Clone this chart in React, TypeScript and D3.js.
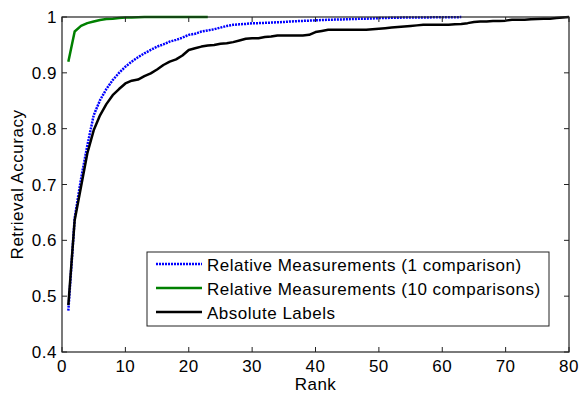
import React from "react";
import * as d3 from "d3";

const absoluteLabels = [
  0.484, 0.636, 0.696, 0.756, 0.797, 0.824, 0.844, 0.86, 0.871, 0.881,
  0.886, 0.888, 0.894, 0.899, 0.906, 0.914, 0.92, 0.924, 0.931, 0.941,
  0.944, 0.947, 0.949, 0.95, 0.952, 0.953, 0.955, 0.958, 0.961, 0.962,
  0.962, 0.964, 0.965, 0.967, 0.967, 0.967, 0.967, 0.967, 0.968, 0.973,
  0.975, 0.977, 0.977, 0.977, 0.977, 0.977, 0.977, 0.977, 0.978, 0.979,
  0.98, 0.981, 0.982, 0.983, 0.984, 0.985, 0.986, 0.986, 0.986, 0.986,
  0.986, 0.987, 0.9875, 0.989, 0.991, 0.992, 0.992, 0.993, 0.993, 0.9935,
  0.995, 0.995, 0.995, 0.996, 0.9965, 0.997, 0.997, 0.998, 0.999, 1.0,
];

const relative1 = [
  0.474, 0.64, 0.71, 0.77, 0.824, 0.851, 0.871, 0.887, 0.9, 0.911,
  0.92, 0.928, 0.935, 0.941, 0.947, 0.951, 0.956, 0.959, 0.963, 0.968,
  0.97, 0.974, 0.976, 0.978, 0.981, 0.984, 0.986, 0.987, 0.9875, 0.989,
  0.989, 0.9895, 0.99, 0.9905, 0.991, 0.992, 0.9925, 0.993, 0.9935, 0.994,
  0.9945, 0.995, 0.9953, 0.9956, 0.996, 0.9964, 0.9968, 0.997, 0.9975, 0.998,
  0.9983, 0.9985, 0.9988, 0.999, 0.999, 0.999, 0.9992, 0.9993, 0.9994, 0.9995,
  0.9996, 0.9997, 0.9998,
];

const relative10 = [
  0.92, 0.974, 0.984, 0.989, 0.992, 0.9946, 0.9964, 0.997, 0.998, 0.999,
  0.999, 0.9995, 1, 1, 1, 1, 1, 1, 1, 1, 1, 1, 1,
];

const xTicks = [0, 10, 20, 30, 40, 50, 60, 70, 80];
const yTicks = [0.4, 0.5, 0.6, 0.7, 0.8, 0.9, 1];

const seriesNames = [
  "Relative Measurements (1 comparison)",
  "Relative Measurements (10 comparisons)",
  "Absolute Labels",
];

const W = 579;
const H = 395;
const L = 62, R = 569, T = 17, B = 352;
const FONT = "'Liberation Sans', Arial, Helvetica, sans-serif";
const FS = 17;
const LS = 0.5;

export default function App() {
  const x = d3.scaleLinear().domain([0, 80]).range([L, R]);
  const y = d3.scaleLinear().domain([0.4, 1]).range([B, T]);
  const line = d3
    .line<number>()
    .x((_, i) => x(i + 1))
    .y((d) => y(d));

  const series = [
    { name: seriesNames[0], data: relative1, color: "#0000ff", dash: "2,1", w: 2.5 },
    { name: seriesNames[1], data: relative10, color: "#008000", dash: undefined, w: 2.5 },
    { name: seriesNames[2], data: absoluteLabels, color: "#000000", dash: undefined, w: 2.5 },
  ];

  const tickLen = 5;
  const legX = 147, legY = 252, legW = 402, legH = 74;

  return (
    <svg
      width={W}
      height={H}
      style={{ position: "absolute", left: 0, top: 0, background: "#fff" }}
      fontFamily={FONT}
      letterSpacing={LS}
    >
      <rect x={0} y={0} width={W} height={H} fill="#fff" />
      {series.map((s) => (
        <path
          key={s.name}
          d={line(s.data) || ""}
          fill="none"
          stroke={s.color}
          strokeWidth={s.w}
          strokeDasharray={s.dash}
          strokeLinejoin="round"
        />
      ))}
      <rect x={L} y={T} width={R - L} height={B - T} fill="none" stroke="#222" strokeWidth={1.2} />
      {xTicks.map((t) => (
        <g key={"x" + t}>
          <line x1={x(t)} x2={x(t)} y1={B} y2={B - tickLen} stroke="#222" />
          <line x1={x(t)} x2={x(t)} y1={T} y2={T + tickLen} stroke="#222" />
          <text x={x(t)} y={372} textAnchor="middle" fontSize={FS} fill="#000">
            {t}
          </text>
        </g>
      ))}
      {yTicks.map((t) => (
        <g key={"y" + t}>
          <line x1={L} x2={L + tickLen} y1={y(t)} y2={y(t)} stroke="#222" />
          <line x1={R} x2={R - tickLen} y1={y(t)} y2={y(t)} stroke="#222" />
          <text x={57} y={y(t) + 6} textAnchor="end" fontSize={FS} fill="#000">
            {d3.format("")(t)}
          </text>
        </g>
      ))}
      <text x={(L + R) / 2} y={390} textAnchor="middle" fontSize={FS} fill="#000">
        Rank
      </text>
      <text
        transform={`translate(23,${(T + B) / 2}) rotate(-90)`}
        textAnchor="middle"
        fontSize={FS}
        fill="#000"
      >
        Retrieval Accuracy
      </text>
      <rect x={legX} y={legY} width={legW} height={legH} fill="#fff" stroke="#222" strokeWidth={1} />
      {series.map((s, i) => {
        const ly = 264 + i * 24;
        return (
          <g key={"leg" + i}>
            <line x1={156} x2={202} y1={ly} y2={ly} stroke={s.color} strokeWidth={s.w} strokeDasharray={s.dash} />
            <text x={207} y={ly + 7} fontSize={FS} fill="#000">
              {s.name}
            </text>
          </g>
        );
      })}
    </svg>
  );
}
